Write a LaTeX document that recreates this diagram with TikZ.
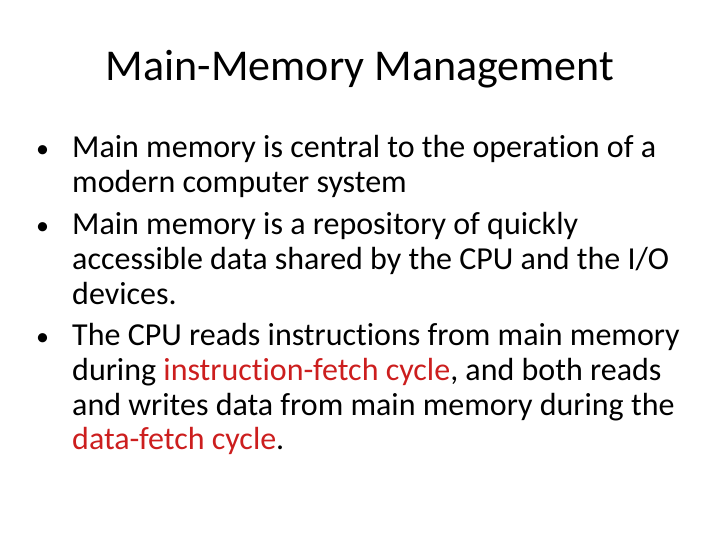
\documentclass[tikz,border=0pt]{standalone}
\usepackage{fontspec}
\setmainfont{Carlito}[Ligatures={NoCommon,NoRare,NoContextual}]
\definecolor{hl}{RGB}{204,30,30}
\begin{document}
\begin{tikzpicture}[x=1pt,y=-1pt,
  ln/.style={anchor=base west,inner sep=0pt,font=\fontsize{32}{34}\selectfont},
  bul/.style={anchor=base west,inner sep=0pt,font=\fontsize{26}{30}\selectfont}]
\useasboundingbox (0,0) rectangle (720,540);
\node[anchor=base,inner sep=0pt,font=\fontsize{44}{48}\selectfont] (title) at (360,81) {Main-Memory Management};
\node[bul] (b1) at (36,158) {•};
\node[ln] (l1) at (72,158) {Main memory is central to the opera\kern0ptt\kern0pt ion of a};
\node[ln] (l2) at (72,193) {modern computer system};
\node[bul] (b2) at (36,234) {•};
\node[ln] (l3) at (72,234) {Main memory is a repository of quickly};
\node[ln] (l4) at (72,269) {accessible data shared by the CPU and the I/O};
\node[ln] (l5) at (72,304) {devices.};
\node[bul] (b3) at (36,345) {•};
\node[ln] (l6) at (72,345) {The CPU reads instruct\kern0pt ions from main memory};
\node[ln] (l7) at (72,380) {during \textcolor{hl}{instruct\kern0pt ion-fetch cycle}, and both reads};
\node[ln] (l8) at (72,415) {and writes data from main memory during the};
\node[ln] (l9) at (72,449) {\textcolor{hl}{data-fetch cycle}.};
\end{tikzpicture}
\end{document}
